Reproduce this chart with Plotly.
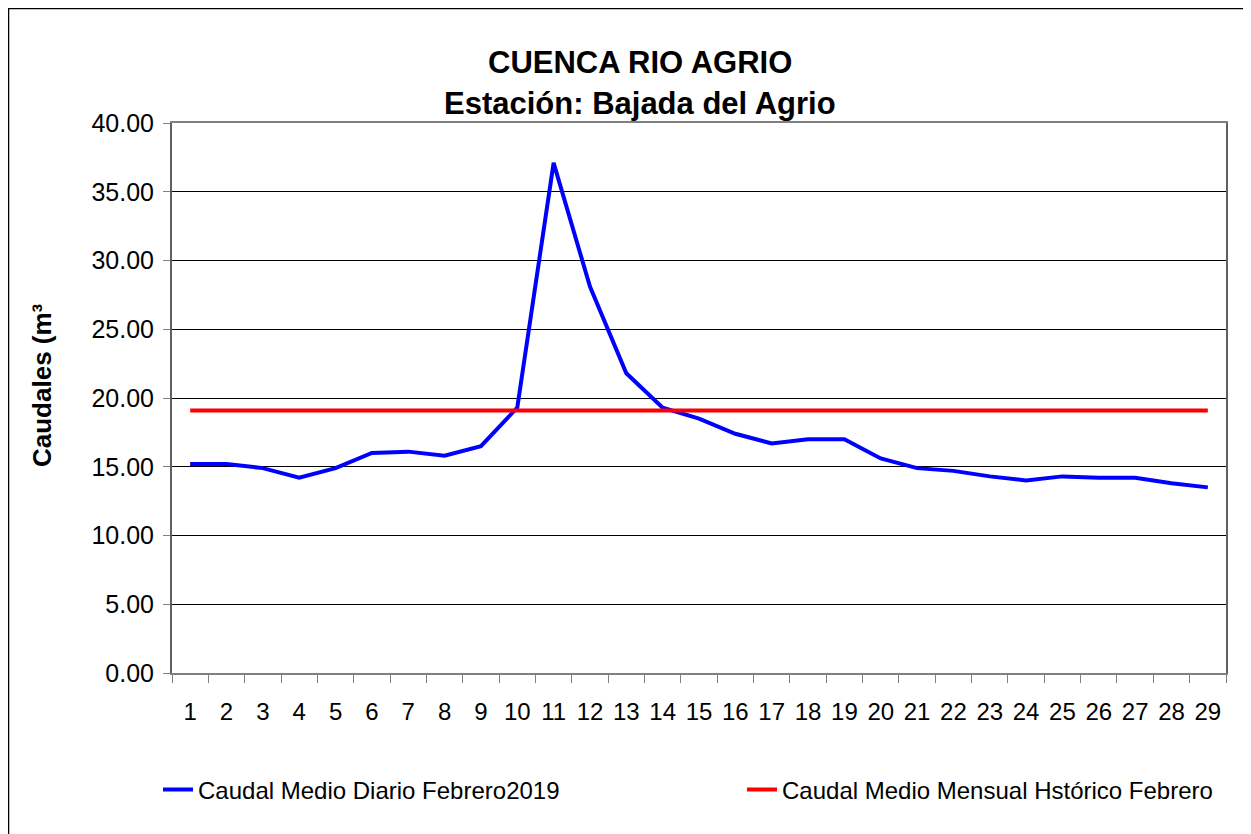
import plotly.graph_objects as go

# %% datos
dias = [str(d) for d in range(1, 30)]
caudal_diario = [15.2, 15.2, 14.9, 14.2, 14.9, 16.0, 16.1, 15.8, 16.5, 19.3,
                 37.1, 28.1, 21.8, 19.3, 18.5, 17.4, 16.7, 17.0, 17.0, 15.6,
                 14.9, 14.7, 14.3, 14.0, 14.3, 14.2, 14.2, 13.8, 13.5]
caudal_historico = [19.1] * 29
y_ticks = [0, 5, 10, 15, 20, 25, 30, 35, 40]

FONT = "Liberation Sans, Arial"

# plot area in pixels of the screenshot (the page has an 8px body margin)
L, R, T, B = 172, 1226, 123, 673
OFF = 8
W, H = 1251 - OFF, 834 - OFF
def px_x(p):
    return (p - L) / (R - L)
def px_y(p):
    return (B - p) / (B - T)

fig = go.Figure()
fig.add_trace(go.Scatter(x=dias, y=caudal_diario, mode="lines",
                         name="Caudal Medio Diario Febrero2019",
                         line=dict(color="#0000FF", width=4), legend="legend"))
fig.add_trace(go.Scatter(x=dias, y=caudal_historico, mode="lines",
                         name="Caudal Medio Mensual Hstórico Febrero",
                         line=dict(color="#FF0000", width=4), legend="legend2"))

leg = dict(orientation="h", yanchor="middle", xanchor="left",
           bgcolor="rgba(0,0,0,0)", font=dict(size=24, family=FONT))
fig.update_layout(
    width=W, height=H,
    margin=dict(l=L - OFF, r=W - (R - OFF), t=T - OFF, b=H - (B - OFF),
                autoexpand=False),
    plot_bgcolor="white", paper_bgcolor="white",
    font=dict(family=FONT, size=22, color="black"),
    showlegend=True,
    legend=dict(leg, x=px_x(158), y=px_y(790)),
    legend2=dict(leg, x=px_x(742), y=px_y(790)),
)

fig.update_xaxes(type="category", range=[-0.5, len(dias) - 0.5], tickangle=0,
                 showline=True, linecolor="#808080", linewidth=2,
                 mirror=True, ticks="outside", tickson="boundaries", ticklen=8,
                 tickcolor="#808080", showgrid=False, ticklabelstandoff=16,
                 tickfont=dict(size=24, family=FONT))
fig.update_yaxes(range=[0, 40], tickvals=y_ticks, tickformat=".2f",
                 showline=True, linecolor="#606060", linewidth=2, mirror=True,
                 ticks="outside", ticklen=7, tickcolor="#808080",
                 showgrid=True, gridcolor="black", gridwidth=1,
                 zeroline=False, ticklabelstandoff=4,
                 tickfont=dict(size=25, family=FONT))

# titulo
fig.add_annotation(text="<b>CUENCA RIO AGRIO</b>", xref="paper", yref="paper",
                   x=px_x(640), y=px_y(62), yanchor="middle", showarrow=False,
                   font=dict(size=31, family=FONT))
fig.add_annotation(text="<b>Estación: Bajada del Agrio</b>", xref="paper", yref="paper",
                   x=px_x(640), y=px_y(103), yanchor="middle", showarrow=False,
                   font=dict(size=31, family=FONT))
fig.add_annotation(text="<b>Caudales (m³</b>", xref="paper", yref="paper",
                   x=px_x(42), y=px_y(385), xanchor="center", yanchor="middle",
                   textangle=-90, showarrow=False,
                   font=dict(size=26, family=FONT))

# borde exterior
fig.add_shape(type="rect", xref="paper", yref="paper",
              x0=px_x(8.5), x1=px_x(1260), y0=px_y(840), y1=px_y(8.5),
              line=dict(color="black", width=1.5), layer="below")

fig.write_html("out.html")
